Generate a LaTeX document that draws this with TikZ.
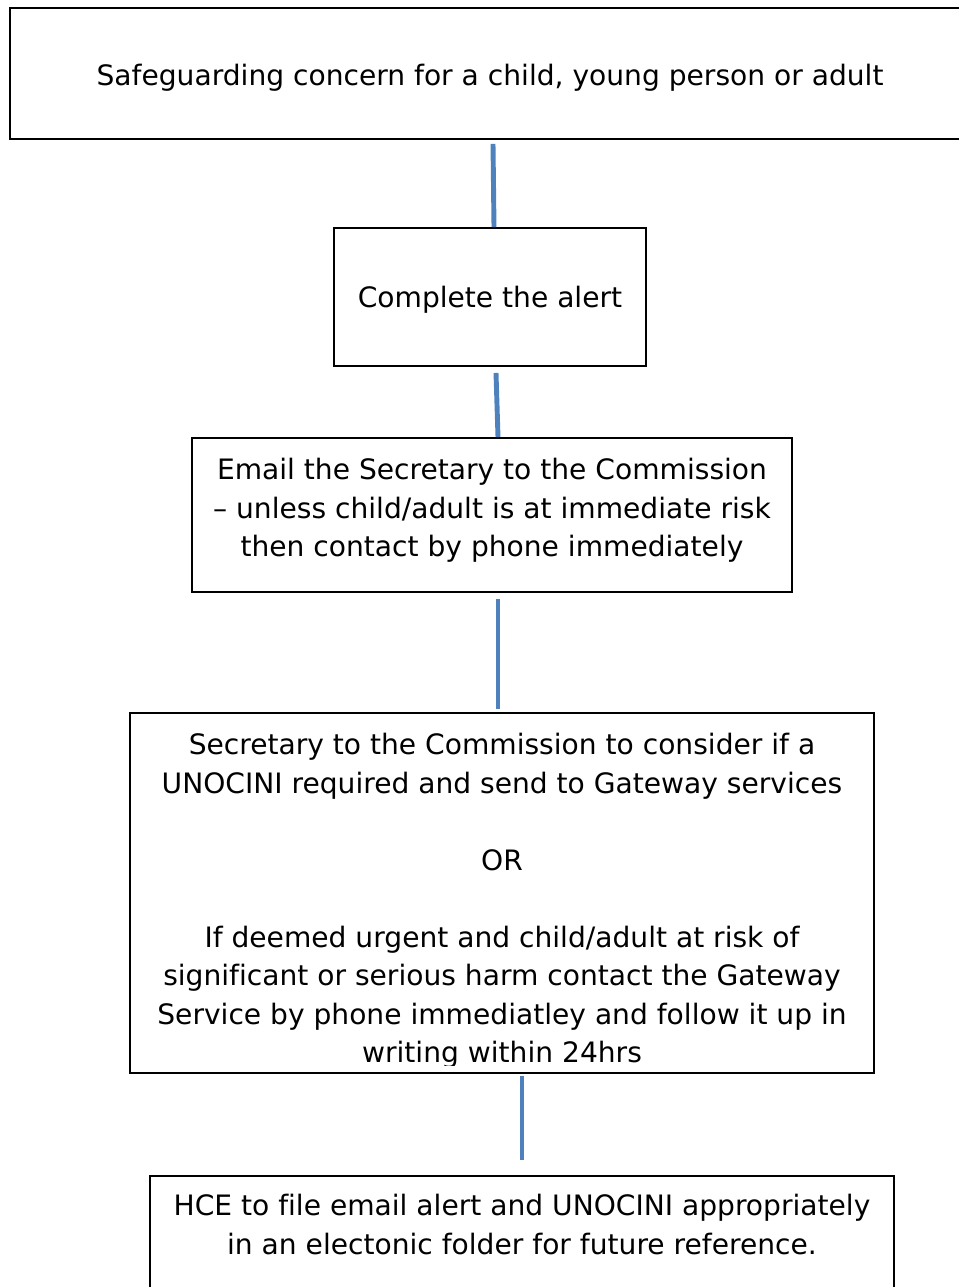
\documentclass[tikz,border=0pt]{standalone}
\usepackage{fontspec}
\setmainfont{DejaVu Sans}[Ligatures=NoCommon]
\usetikzlibrary{calc}
\definecolor{linkblue}{HTML}{4F81BD}
\tikzset{
  box/.style={draw, line width=1.1pt, inner sep=0pt, align=center,
    font=\fontsize{16}{21.9}\selectfont},
  boxtext/.style={inner sep=0pt, align=center,
    font=\fontsize{16}{21.9}\selectfont},
  link/.style={draw=linkblue, line width=2.8pt},
}

\begin{document}
\begin{tikzpicture}[x=0.02cm, y=-0.02cm]
\path[use as bounding box, clip] (0,0) rectangle (959,1287);
% the steps
\node[box, minimum width=19.2cm, minimum height=2.62cm, text height=0.58cm] (concern) at (490,73.5)
  {Safeguarding concern for a child, young person or adult};
\node[box, minimum width=6.24cm, minimum height=2.76cm, text height=0.55cm] (alert) at (490,297)
  {Complete the alert};
\node[box, minimum width=12cm, minimum height=3.08cm, text depth=0.3cm] (email) at (492,515)
  {Email the Secretary to the Commission\\
   -- unless child/adult is at immediate risk\\
   then contact by phone immediately};
\node[box, minimum width=14.88cm, minimum height=7.2cm] (consider) at (502,893) {};
\begin{scope}
  \clip (consider.north west) rectangle ($(consider.south east)+(0,-8)$);
  \node[boxtext, anchor=north] (considertext) at ($(consider.north)+(0,21)$)
    {Secretary to the Commission to consider if a\\
     UNOCINI required and send to Gateway services\\[21.9pt]
     OR\\[21.9pt]
     If deemed urgent and child/adult at risk of\\
     significant or serious harm contact the Gateway\\
     Service by phone immediatley and follow it up in\\
     writing within 24hrs};
\end{scope}
\node[box, minimum width=14.88cm, minimum height=3cm, anchor=north] (hce) at (522,1175) {};
\node[boxtext, anchor=north] (hcetext) at ($(hce.north)+(0,19)$)
  {HCE to file email alert and UNOCINI appropriately\\
   in an electonic folder for future reference.};
% connectors
\draw[link] ($(concern.south)+(3,4)$) -- ($(alert.north)+(4,0)$);
\draw[link] ($(alert.south)+(6,6)$) -- ($(email.north)+(6,0)$);
\draw[link] ($(email.south)+(6,6)$) -- ($(consider.north)+(-4,-3)$);
\draw[link] ($(consider.south)+(20,2)$) -- ($(hce.north)+(0,-15)$);
\end{tikzpicture}
\end{document}
